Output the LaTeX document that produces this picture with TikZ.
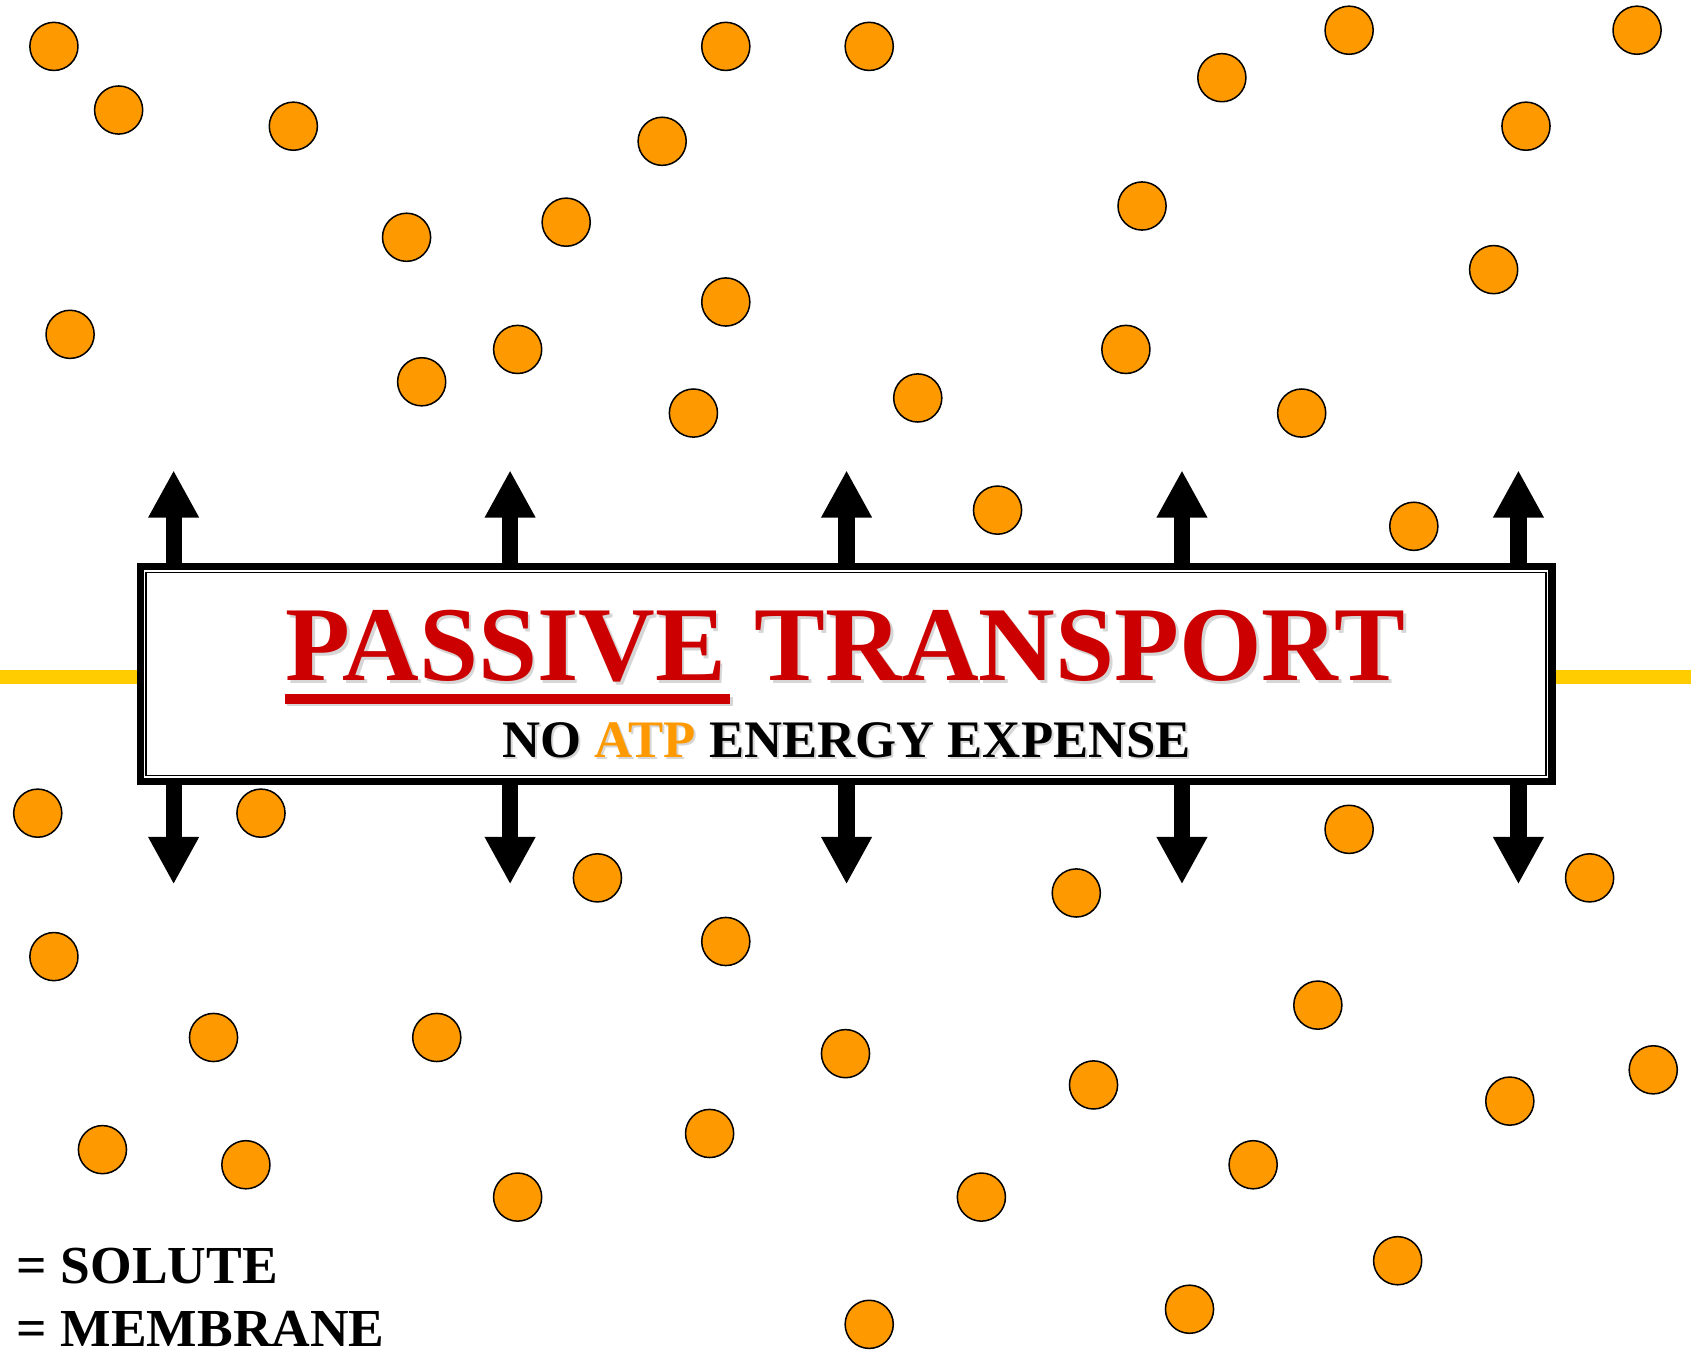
\documentclass[tikz,border=0pt]{standalone}
\usepackage{fontspec}
\setmainfont{Liberation Serif}
\usetikzlibrary{arrows.meta,positioning,calc}
\definecolor{soluteorange}{RGB}{255,153,0}
\definecolor{titlered}{RGB}{204,0,0}
\definecolor{membraneyellow}{RGB}{255,204,0}

\begin{document}
\begin{tikzpicture}[x=0.01cm, y=-0.01cm,
    solute/.style={circle, draw=black, line width=0.4pt, fill=soluteorange,
                   minimum size=0.446cm, inner sep=0pt},
    panel/.style={rectangle, draw=black, line width=0.07cm, fill=white,
                  minimum width=13.08cm, minimum height=1.99cm, inner sep=0pt},
    membrane/.style={line width=0.13cm, membraneyellow},
    flux/.style={line width=0.15cm, -{Triangle[width=0.44cm, length=0.44cm]}},
    headline/.style={font=\bfseries\fontsize{28}{30}\selectfont, text=titlered, inner sep=0pt},
    subline/.style={font=\bfseries\fontsize{13.9}{16}\selectfont, inner sep=0pt},
    legend/.style={font=\bfseries\fontsize{14.1}{16}\selectfont, inner sep=0pt, anchor=base west},
    ghost/.style={text=black!16}]
% page frame
\path[fill=white, use as bounding box] (0,0) rectangle (1568,1256);
% solutes above and below the membrane
\foreach \px/\py [count=\k] in {50/43, 110/102, 272/117, 673/43, 806/43, 614/131, 377/220,
    525/206, 65/310, 673/280, 480/324, 391/354, 643/383, 851/369, 1133/72, 1251/28,
    1518/28, 1415/117, 1059/191, 1385/250, 1044/324, 1207/383, 925/473, 1311/488,
    35/754, 242/754, 554/814, 50/887, 673/873, 998/828, 1251/769, 1474/814,
    198/962, 405/962, 784/977, 1222/932, 1014/1006, 1533/992, 1400/1021, 95/1066,
    228/1080, 658/1051, 480/1110, 910/1110, 1162/1080, 1296/1169, 1103/1214, 806/1228}
  \node[solute] (s\k) at (\px,\py) {};
% membrane and the channel box
\node[panel] (panel) at (784.5,625) {};
\draw[line width=0.4pt] ($(panel.north west)+(9,9)$) rectangle ($(panel.south east)+(-9,-9)$);
\coordinate (memL) at (0,628);
\coordinate (memR) at (1568,628);
\draw[membrane] (memL) -- (memL -| panel.west);
\draw[membrane] (panel.east |- memR) -- (memR);
% flux arrows in both directions
\foreach \ax [count=\k] in {161,473,785,1096,1408} {
  \coordinate (up\k) at (\ax,436);
  \coordinate (dn\k) at (\ax,820);
  \draw[flux] (panel.north -| up\k) -- (up\k);
  \draw[flux] (panel.south -| dn\k) -- (dn\k);
}
% soft shadow behind the texts
\node[headline, ghost, anchor=base west] (passiveghost) at (266.5,633.5) {PASSIVE};
\node[headline, ghost, right=0.25cm of passiveghost] (transportghost) {TRANSPORT};
\draw[black!16, line width=0.09cm] ($(passiveghost.base west)+(0,17)$) -- ($(passiveghost.base east)+(3,17)$);
\node[subline, ghost, anchor=base] (energyghost) at (787,704) {NO ATP ENERGY EXPENSE};
% headline
\node[headline, anchor=base west] (passive) at (264,631) {PASSIVE};
\node[headline, right=0.25cm of passive] (transport) {TRANSPORT};
\draw[titlered, line width=0.09cm] ($(passive.base west)+(0,17)$) -- ($(passive.base east)+(3,17)$);
\node[subline, anchor=base] (energy) at (785,702) {NO \textcolor{soluteorange}{ATP} ENERGY EXPENSE};
% key
\node[legend] (solutekey) at (15,1190) {= SOLUTE};
\node[legend] (membranekey) at (15,1249) {= MEMBRANE};
\end{tikzpicture}
\end{document}
